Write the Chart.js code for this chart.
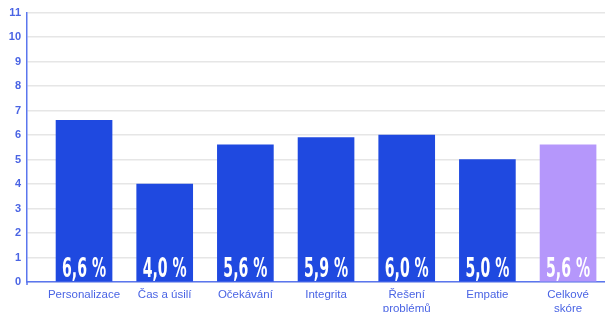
<!DOCTYPE html>
<html>
<head>
<meta charset="utf-8">
<script src="https://cdn.jsdelivr.net/npm/chart.js@4.4.1/dist/chart.umd.min.js"></script>
<style>
  html, body { margin: 0; padding: 0; background: #fff; }
  #wrap { width: 605px; height: 312px; }
</style>
</head>
<body>
<div id="wrap"><canvas id="myChart"></canvas></div>
<script>
let categories = ['Personalizace', 'Čas a úsilí', 'Očekávání', 'Integrita', ['Řešení', 'problémů'], 'Empatie', ['Celkové', 'skóre']];
let values = [6.6, 4.0, 5.6, 5.9, 6.0, 5.0, 5.6];
let valueLabels = ['6,6 %', '4,0 %', '5,6 %', '5,9 %', '6,0 %', '5,0 %', '5,6 %'];
let yTicks = [0, 1, 2, 3, 4, 5, 6, 7, 8, 9, 10, 11];

let blue = '#1f49e0';
let purple = '#b597fb';
let tickBlue = '#4a64e4';

let points = values.map((v, i) => ({ x: i, y: v }));
let colors = values.map((v, i) => i === values.length - 1 ? purple : blue);

// white percentage labels at the bottom of each bar (squeezed to look condensed)
const barLabels = {
    id: 'barLabels',
    afterDatasetsDraw(chart) {
        let ctx = chart.ctx;
        let meta = chart.getDatasetMeta(0);
        let bottom = chart.scales.y.getPixelForValue(0);
        ctx.save();
        ctx.fillStyle = '#ffffff';
        ctx.font = 'bold 26px "Liberation Sans Narrow", "DejaVu Sans Condensed", "DejaVu Sans", sans-serif';
        ctx.textAlign = 'center';
        ctx.textBaseline = 'alphabetic';
        let squeeze = 44 / ctx.measureText('6,6 %').width;
        meta.data.forEach((bar, i) => {
            ctx.save();
            ctx.translate(bar.x, bottom - 5);
            ctx.scale(squeeze, 1);
            ctx.fillText(valueLabels[i], 0, 0);
            ctx.restore();
        });
        ctx.restore();
    }
};

// small tick under the left end of the x axis
const cornerTick = {
    id: 'cornerTick',
    afterDraw(chart) {
        let ctx = chart.ctx;
        let area = chart.chartArea;
        ctx.save();
        ctx.strokeStyle = '#5b76ee';
        ctx.lineWidth = 1.5;
        ctx.beginPath();
        ctx.moveTo(area.left, area.bottom);
        ctx.lineTo(area.left, area.bottom + 3);
        ctx.stroke();
        ctx.restore();
    }
};

const config = {
    type: 'bar',
    data: {
        datasets: [{
            data: points,
            backgroundColor: colors,
            barThickness: 56,
            borderWidth: 0
        }]
    },
    options: {
        responsive: true,
        maintainAspectRatio: false,
        animation: false,
        layout: { padding: { top: 6, right: 0, left: 0, bottom: 0 } },
        plugins: {
            legend: { display: false },
            tooltip: { enabled: false }
        },
        scales: {
            x: {
                type: 'linear',
                offset: false,
                min: -0.707,
                max: 6.458,
                afterFit(scale) { scale.height = 30; },
                afterBuildTicks(scale) {
                    scale.ticks = categories.map((c, i) => ({ value: i }));
                },
                grid: { display: false, drawTicks: false },
                border: { display: true, color: '#5b76ee', width: 1.5 },
                ticks: {
                    color: tickBlue,
                    padding: 6,
                    autoSkip: false,
                    maxRotation: 0,
                    font: { family: '"Helvetica", "Liberation Sans", Arial, sans-serif', size: 11.5 },
                    callback: (value) => categories[value]
                }
            },
            y: {
                min: 0,
                max: 11,
                afterFit(scale) { scale.width = 27; },
                afterBuildTicks(scale) {
                    scale.ticks = yTicks.map(v => ({ value: v }));
                },
                grid: {
                    color: '#e6e6e6',
                    lineWidth: 1.5,
                    drawTicks: false
                },
                border: { display: true, color: '#5b76ee', width: 1.5 },
                ticks: {
                    color: tickBlue,
                    padding: 6,
                    font: { family: '"Helvetica", "Liberation Sans", Arial, sans-serif', size: 11, weight: 'bold' }
                }
            }
        }
    },
    plugins: [barLabels, cornerTick]
};

let myChart = new Chart(document.getElementById('myChart'), config);
</script>
</body>
</html>
